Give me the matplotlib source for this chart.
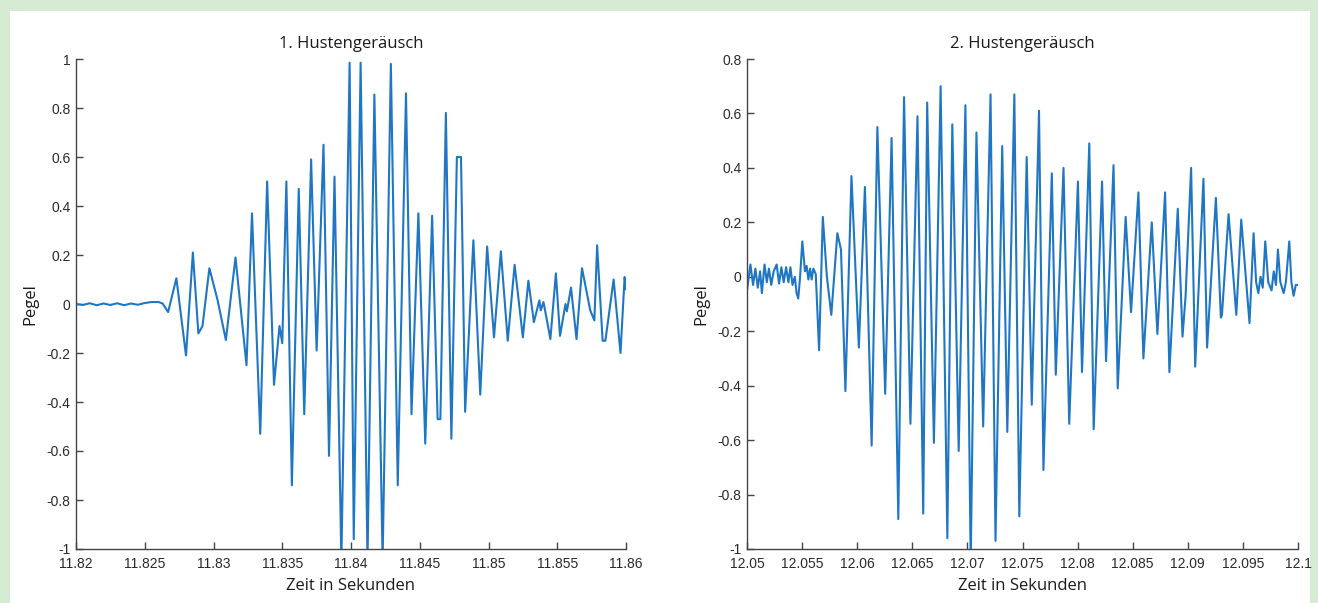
import numpy as np
import matplotlib
matplotlib.use('Agg')
import matplotlib.pyplot as plt
from matplotlib.patches import Rectangle
from matplotlib.ticker import FuncFormatter

plt.rcParams['axes.unicode_minus'] = False

# 1. Hustengeraeusch: extrema (time [s], level)
t1 = [11.8200, 11.8205, 11.8210, 11.8215, 11.8220, 11.8225, 11.8230, 11.8235,
      11.8240, 11.8245, 11.8250, 11.8255, 11.8260, 11.8263, 11.8267, 11.8273,
      11.8280, 11.8285, 11.8289, 11.8292, 11.8297, 11.8303, 11.8309, 11.8316,
      11.8324, 11.8328, 11.8334, 11.8339, 11.8344, 11.8348, 11.8350, 11.8353,
      11.8357, 11.8362, 11.8366, 11.8371, 11.8375, 11.8380, 11.8384, 11.8388,
      11.8393, 11.8399, 11.8402, 11.8407, 11.8412, 11.8417, 11.8423, 11.8429,
      11.8434, 11.8440, 11.8444, 11.8449, 11.8454, 11.8459, 11.8463, 11.8465,
      11.8469, 11.8473, 11.8477, 11.8480, 11.8483, 11.8489, 11.8494, 11.8499,
      11.8504, 11.8509, 11.8514, 11.8519, 11.8525, 11.8529, 11.8533, 11.8537,
      11.8538, 11.8540, 11.8545, 11.8549, 11.8552, 11.8556, 11.8557, 11.8560,
      11.8564, 11.8568, 11.8574, 11.8577, 11.8579, 11.8583, 11.8585, 11.8591,
      11.8596, 11.8599, 11.8600]
y1 = [0.000, -0.004, 0.003, -0.005, 0.002, -0.004, 0.003, -0.005,
      0.002, -0.003, 0.004, 0.008, 0.008, 0.002, -0.033, 0.105,
      -0.21, 0.21, -0.12, -0.09, 0.146, 0.015, -0.147, 0.19,
      -0.25, 0.37, -0.53, 0.50, -0.33, -0.09, -0.16, 0.50,
      -0.74, 0.47, -0.45, 0.59, -0.19, 0.65, -0.62, 0.52,
      -1.05, 0.985, -0.96, 0.985, -1.05, 0.855, -1.05, 0.98,
      -0.74, 0.86, -0.45, 0.37, -0.57, 0.36, -0.47, -0.47,
      0.78, -0.55, 0.60, 0.60, -0.44, 0.26, -0.37, 0.235,
      -0.136, 0.215, -0.15, 0.16, -0.136, 0.095, -0.074, 0.015,
      -0.026, 0.008, -0.143, 0.125, -0.13, 0.0, -0.03, 0.067,
      -0.143, 0.146, -0.026, -0.067, 0.24, -0.15, -0.15, 0.10,
      -0.20, 0.11, 0.06]

# 2. Hustengeraeusch
t2 = [12.05000, 12.05031, 12.05055, 12.05076, 12.05098, 12.05119, 12.05135, 12.05159,
      12.05180, 12.05199, 12.05220, 12.05242, 12.05269, 12.05291, 12.05312, 12.05333,
      12.05355, 12.05376, 12.05394, 12.05413, 12.05434, 12.05450, 12.05465, 12.05480,
      12.05502, 12.05526, 12.05541, 12.05557, 12.05572, 12.05587, 12.05602, 12.05624,
      12.05654, 12.05688, 12.05725, 12.05765, 12.05820, 12.05853, 12.05893, 12.05948,
      12.06015, 12.06070, 12.06131, 12.06183, 12.06254, 12.06312, 12.06373, 12.06425,
      12.06483, 12.06547, 12.06599, 12.06635, 12.06696, 12.06757, 12.06818, 12.06863,
      12.06921, 12.06982, 12.07030, 12.07082, 12.07143, 12.07210, 12.07255, 12.07316,
      12.07362, 12.07426, 12.07471, 12.07538, 12.07584, 12.07650, 12.07690, 12.07766,
      12.07802, 12.07872, 12.07924, 12.08003, 12.08040, 12.08064, 12.08106, 12.08146,
      12.08222, 12.08258, 12.08326, 12.08364, 12.08436, 12.08485, 12.08552, 12.08597,
      12.08673, 12.08724, 12.08794, 12.08833, 12.08909, 12.08952, 12.08980, 12.09030,
      12.09067, 12.09142, 12.09175, 12.09255, 12.09300, 12.09310, 12.09370, 12.09440,
      12.09485, 12.09530, 12.09560, 12.09597, 12.09620, 12.09640, 12.09660, 12.09680,
      12.09703, 12.09730, 12.09760, 12.09780, 12.09800, 12.09818, 12.09840, 12.09870,
      12.09890, 12.09921, 12.09940, 12.09960, 12.09980, 12.10000]
y2 = [-0.05, 0.045, -0.03, 0.03, -0.04, 0.02, -0.06, 0.045,
      -0.02, 0.03, -0.03, 0.02, 0.045, -0.025, 0.035, -0.02,
      0.035, -0.02, 0.035, -0.03, 0.0, -0.06, -0.08, -0.01,
      0.13, 0.02, 0.04, -0.01, 0.03, -0.01, 0.03, 0.01,
      -0.27, 0.22, 0.0, -0.14, 0.16, 0.10, -0.42, 0.37,
      -0.26, 0.33, -0.62, 0.55, -0.43, 0.51, -0.89, 0.66,
      -0.54, 0.59, -0.87, 0.64, -0.61, 0.70, -0.96, 0.56,
      -0.64, 0.63, -1.05, 0.53, -0.55, 0.67, -0.97, 0.48,
      -0.57, 0.67, -0.88, 0.44, -0.47, 0.61, -0.71, 0.38,
      -0.36, 0.40, -0.54, 0.35, -0.35, -0.05, 0.49, -0.56,
      0.35, -0.31, 0.41, -0.41, 0.22, -0.13, 0.31, -0.30,
      0.20, -0.21, 0.31, -0.35, 0.25, -0.22, -0.07, 0.40,
      -0.33, 0.36, -0.26, 0.29, -0.15, -0.14, 0.23, -0.14,
      0.21, -0.02, -0.17, 0.16, -0.02, -0.06, 0.0, -0.04,
      0.13, -0.02, -0.05, 0.02, -0.03, 0.10, -0.02, -0.06,
      -0.02, 0.13, -0.02, -0.07, -0.03, -0.03]

titles = ['1. Hustengeräusch', '2. Hustengeräusch']
xlims = [(11.82, 11.86), (12.05, 12.1)]
ylims = [(-1, 1), (-1, 0.8)]
xticks = [np.arange(11.82, 11.8601, 0.005), np.arange(12.05, 12.1001, 0.005)]
yticks = [np.arange(-1, 1.01, 0.2), np.arange(-1, 0.81, 0.2)]

W, H = 1318, 603
fig = plt.figure(figsize=(W/100, H/100), dpi=100)
fig.patch.set_facecolor('#d5ebd3')
# white inner page, light green frame round it
fig.patches.append(Rectangle((10/W, 0), 1300/W, 1 - 11/H, transform=fig.transFigure,
                             facecolor='white', edgecolor='none', zorder=-5))

axpos = [[76/W, 1-549/H, 550/W, 490/H], [747/W, 1-549/H, 551/W, 490/H]]
data = [(t1, y1), (t2, y2)]

lab_font = 'Open Sans'
tick_font = 'Liberation Sans'

def fmt_x(v, p):
    return ('%.3f' % v).rstrip('0').rstrip('.')

def fmt_y(v, p):
    if abs(v) < 1e-9:
        return '0'
    return ('%.1f' % v).rstrip('0').rstrip('.')

for i in range(2):
    ax = fig.add_axes(axpos[i])
    ax.patch.set_alpha(0)
    ax.plot(data[i][0], data[i][1], color='#1f77c4', linewidth=1.5)
    ax.set_xlim(*xlims[i])
    ax.set_ylim(*ylims[i])
    ax.set_xticks(xticks[i])
    ax.set_yticks(yticks[i])
    ax.xaxis.set_major_formatter(FuncFormatter(fmt_x))
    ax.yaxis.set_major_formatter(FuncFormatter(fmt_y))
    ax.spines['top'].set_visible(False)
    ax.spines['right'].set_visible(False)
    for s in ['left', 'bottom']:
        ax.spines[s].set_color('#444444')
        ax.spines[s].set_linewidth(1.0)
    ax.tick_params(direction='in', length=5, width=1.0, color='#444444',
                   labelsize=10, labelcolor='#2a2a2a')
    ax.tick_params(axis='x', pad=6)
    ax.tick_params(axis='y', pad=4)
    for lbl in ax.get_xticklabels() + ax.get_yticklabels():
        lbl.set_fontfamily(tick_font)
    ax.set_title(titles[i], fontsize=12, family=lab_font, color='#1a1a1a', pad=8)
    ax.set_xlabel('Zeit in Sekunden', fontsize=12, family=lab_font, color='#1a1a1a', labelpad=5)
    ax.set_ylabel('Pegel', fontsize=12, family=lab_font, color='#1a1a1a', labelpad=6)

plt.savefig('out.png', dpi=100, facecolor=fig.get_facecolor())
